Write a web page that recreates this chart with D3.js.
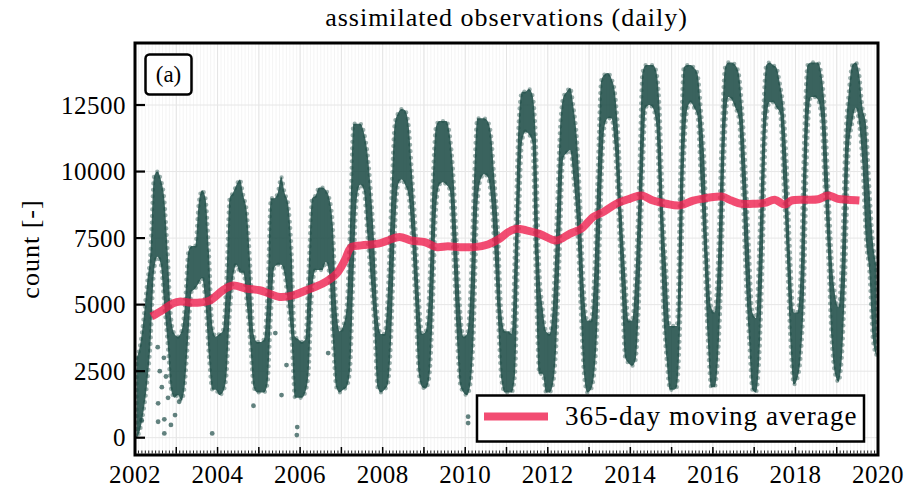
<!DOCTYPE html>
<html>
<head>
<meta charset="utf-8">
<script src="https://cdn.jsdelivr.net/npm/d3@7"></script>
<style>
  body { margin: 0; background: #fff; }
  svg text { font-family: "Liberation Serif", "Times New Roman", serif; fill: #000; }
</style>
</head>
<body>
<svg id="chart" width="908" height="493"></svg>
<script>
const firstYear = 2002;
const lastYear = 2020;
const yTickValues = [0, 2500, 5000, 7500, 10000, 12500];
const xTickLabels = [2002, 2004, 2006, 2008, 2010, 2012, 2014, 2016, 2018, 2020];

// spread of the daily counts in each month (low / high edge of the cloud), Jan..Dec
const monthLow = [
  [0, 300, 1000, 2000, 3500, 6200, 6800, 6500, 5000, 3500, 1800, 1500], // 2002
  [1600, 1400, 2000, 3800, 5500, 5600, 5800, 6000, 5000, 3000, 1800, 1800], // 2003
  [1600, 1700, 2200, 4500, 6000, 6500, 6200, 6200, 5000, 3500, 1900, 1700], // 2004
  [1700, 1700, 2000, 4500, 6400, 6500, 6500, 6100, 5000, 3700, 1500, 1500], // 2005
  [1500, 1700, 2500, 5500, 6300, 6300, 6300, 6600, 6100, 3700, 1900, 1700], // 2006
  [1800, 1900, 2500, 6000, 9000, 9500, 9300, 7700, 6000, 4300, 1900, 1700], // 2007
  [1800, 2000, 3800, 7500, 9500, 9700, 9500, 9100, 7500, 5000, 2400, 1900], // 2008
  [1850, 2200, 4500, 8500, 9500, 9600, 9500, 9300, 7000, 4000, 2000, 1700], // 2009
  [1600, 2000, 4000, 8600, 9700, 9900, 9800, 9000, 7000, 4500, 2200, 1700], // 2010
  [1700, 1700, 2400, 7400, 11100, 11500, 11400, 11100, 6000, 2400, 2400, 1700], // 2011
  [1700, 2000, 3500, 7000, 10500, 10700, 10800, 9700, 8000, 5000, 2400, 1700], // 2012
  [1800, 2400, 4500, 9000, 11700, 12000, 12000, 10900, 8400, 5500, 3000, 2800], // 2013
  [2700, 2900, 5000, 9300, 12400, 12500, 12400, 11800, 8700, 4900, 3000, 1800], // 2014
  [1800, 1900, 4300, 9900, 12300, 12600, 12400, 12100, 9500, 6800, 3700, 1900], // 2015
  [1900, 3000, 6200, 11200, 12800, 12700, 12400, 12000, 9600, 6100, 3700, 1800], // 2016
  [1700, 3000, 6800, 11800, 12600, 12600, 12400, 12200, 9600, 6800, 3700, 2000], // 2017
  [2200, 3000, 5500, 11200, 12800, 12800, 12700, 12000, 9300, 6800, 3700, 2400], // 2018
  [2100, 3000, 6200, 10800, 11800, 12400, 11800, 10200, 7400, 6200, 3700, 3100]  // 2019
];
const monthHigh = [
  [3000, 3500, 4500, 5800, 7000, 9800, 10000, 9700, 9000, 7000, 4500, 3900], // 2002
  [3800, 4000, 5000, 7000, 7200, 7200, 8800, 9300, 9000, 7000, 4200, 3800], // 2003
  [3900, 4000, 5800, 9000, 9200, 9500, 9700, 9100, 8500, 6500, 3900, 3600], // 2004
  [3600, 3700, 5500, 9000, 9000, 9200, 9800, 9200, 8800, 7100, 3800, 3700], // 2005
  [3600, 3700, 6500, 9000, 9100, 9400, 9400, 9300, 9000, 8000, 5000, 4000], // 2006
  [4200, 4900, 8000, 11800, 11800, 11800, 11500, 10800, 9400, 7400, 4600, 3900], // 2007
  [3900, 5500, 9000, 11800, 12200, 12350, 12300, 11800, 10000, 8000, 5400, 3900], // 2008
  [4000, 5500, 9500, 11700, 11900, 11900, 11900, 11400, 10000, 7500, 4900, 3800], // 2009
  [3900, 5500, 9500, 12000, 12000, 12000, 11900, 11400, 9700, 7900, 4700, 4000], // 2010
  [4000, 3900, 7500, 11800, 13000, 13000, 13100, 12900, 11400, 6500, 4900, 4000], // 2011
  [3900, 5000, 8000, 11500, 12800, 13000, 13150, 12400, 11200, 8700, 5600, 4400], // 2012
  [4400, 6200, 10000, 13400, 13650, 13700, 13500, 13000, 11400, 8400, 6200, 4400], // 2013
  [4400, 6200, 9500, 13700, 14000, 14000, 14000, 13800, 12400, 8700, 6200, 4200], // 2014
  [4200, 4200, 9900, 13900, 14000, 14000, 13900, 13700, 12400, 10500, 6900, 4900], // 2015
  [4700, 6800, 11200, 13900, 14100, 14100, 14000, 13700, 12400, 10100, 7100, 4700], // 2016
  [4500, 7400, 11800, 14000, 14100, 14000, 13900, 13300, 12400, 10200, 6800, 4700], // 2017
  [4700, 6200, 11200, 14000, 14100, 14100, 14100, 13700, 12400, 9700, 6800, 5400], // 2018
  [4900, 6800, 11200, 13000, 14000, 14100, 13700, 12400, 11800, 9400, 7400, 6500]  // 2019
];

// isolated daily values lying away from the main cloud
const strayTime = [2002.16, 2002.55, 2002.56, 2002.56, 2002.6, 2002.65, 2002.7, 2002.71, 2002.71,
  2002.75, 2002.8, 2002.87, 2002.97, 2003.07, 2003.87, 2004.87, 2005.4, 2005.55, 2005.67,
  2005.92, 2005.93, 2006.68, 2010.07, 2010.07];
const strayCount = [660, 3400, 1290, 600, 2500, 1900, 3000, 690, 160,
  2300, 1500, 480, 850, 1350, 160, 1200, 3930, 1600, 2730,
  100, 400, 3180, 790, 550];

// 365-day moving average
const avgTime = [2002.40, 2002.68, 2002.92, 2003.10, 2003.30, 2003.57, 2003.81, 2004.13, 2004.37,
  2004.70, 2005.02, 2005.26, 2005.50, 2005.83, 2006.15, 2006.55, 2006.88, 2007.08, 2007.24,
  2007.48, 2007.89, 2008.13, 2008.41, 2008.69, 2009.02, 2009.30, 2009.58, 2009.86, 2010.23,
  2010.55, 2010.83, 2011.04, 2011.24, 2011.48, 2011.80, 2012.21, 2012.53, 2012.81, 2013.10,
  2013.34, 2013.66, 2013.98, 2014.27, 2014.55, 2014.87, 2015.19, 2015.52, 2015.72, 2016.21,
  2016.45, 2016.69, 2017.02, 2017.26, 2017.50, 2017.74, 2017.90, 2018.22, 2018.55, 2018.79,
  2019.03, 2019.27, 2019.55];
const avgCount = [4550, 4800, 5050, 5120, 5080, 5080, 5150, 5540, 5720,
  5600, 5540, 5410, 5290, 5350, 5540, 5790, 6160, 6660, 7160,
  7225, 7290, 7410, 7540, 7410, 7350, 7160, 7190, 7160, 7160,
  7260, 7475, 7725, 7850, 7790, 7660, 7410, 7660, 7850, 8290,
  8475, 8790, 8975, 9100, 8910, 8790, 8725, 8910, 8975, 9060,
  8910, 8790, 8790, 8825, 8940, 8760, 8910, 8940, 8960, 9100,
  8975, 8940, 8910];

const svg = d3.select("#chart");
const plot = { left: 135, right: 878, top: 43, bottom: 455 };
const dotColor = "#1f4d48";
const avgColor = "#ef1f4f";

const x = d3.scaleLinear().domain([firstYear, lastYear]).range([plot.left, plot.right]);
const y = d3.scaleLinear().domain([-650, 14830]).range([plot.bottom, plot.top]);

// clip for the data marks
svg.append("defs").append("clipPath").attr("id", "plotclip")
  .append("rect")
  .attr("x", plot.left).attr("y", plot.top)
  .attr("width", plot.right - plot.left).attr("height", plot.bottom - plot.top);

// grid: months (faint), years, y ticks
const monthTicks = d3.range(firstYear * 12, lastYear * 12 + 1).map(k => k / 12);
const yearTicks = d3.range(firstYear, lastYear + 1);
const grid = svg.append("g");
grid.selectAll("line.minor").data(monthTicks).join("line")
  .attr("class", "minor")
  .attr("x1", d => x(d)).attr("x2", d => x(d))
  .attr("y1", plot.top).attr("y2", plot.bottom)
  .attr("stroke", "#f1f1f1").attr("stroke-width", 0.8);
grid.selectAll("line.year").data(yearTicks).join("line")
  .attr("class", "year")
  .attr("x1", d => x(d)).attr("x2", d => x(d))
  .attr("y1", plot.top).attr("y2", plot.bottom)
  .attr("stroke", "#e4e4e4").attr("stroke-width", 1);
grid.selectAll("line.h").data(yTickValues).join("line")
  .attr("class", "h")
  .attr("x1", plot.left).attr("x2", plot.right)
  .attr("y1", d => y(d)).attr("y2", d => y(d))
  .attr("stroke", "#e6e6e6").attr("stroke-width", 1);

// monthly spread of daily counts as one continuous band
const months = [];
monthLow.forEach((row, i) => {
  row.forEach((lo, m) => {
    months.push({ t: firstYear + i + (m + 0.5) / 12, lo: lo, hi: monthHigh[i][m] });
  });
});

const band = d3.area()
  .x(d => x(d.t))
  .y0(d => y(d.lo))
  .y1(d => y(d.hi))
  .curve(d3.curveMonotoneX);

const data = svg.append("g").attr("clip-path", "url(#plotclip)");
data.append("path")
  .datum(months)
  .attr("d", band)
  .attr("fill", dotColor)
  .attr("fill-opacity", 0.88);
// dotted rim, like the loose points at the edge of the cloud
data.append("path")
  .datum(months)
  .attr("d", band)
  .attr("fill", "none")
  .attr("stroke", dotColor)
  .attr("stroke-opacity", 0.45)
  .attr("stroke-width", 4.2)
  .attr("stroke-linecap", "round")
  .attr("stroke-dasharray", "0,6.5");

data.selectAll("circle").data(strayTime).join("circle")
  .attr("cx", d => x(d))
  .attr("cy", (d, i) => y(strayCount[i]))
  .attr("r", 2.4)
  .attr("fill", dotColor)
  .attr("fill-opacity", 0.7);

// moving average
const avgLine = d3.line()
  .x(d => x(d[0]))
  .y(d => y(d[1]))
  .curve(d3.curveCatmullRom);
data.append("path")
  .datum(avgTime.map((t, i) => [t, avgCount[i]]))
  .attr("d", avgLine)
  .attr("fill", "none")
  .attr("stroke", avgColor)
  .attr("stroke-width", 8)
  .attr("stroke-opacity", 0.8)
  .attr("stroke-linejoin", "round");

// axes: inward ticks
const axes = svg.append("g");
axes.selectAll("line.ytick").data(yTickValues).join("line")
  .attr("class", "ytick")
  .attr("x1", plot.left).attr("x2", plot.left + 10)
  .attr("y1", d => y(d)).attr("y2", d => y(d))
  .attr("stroke", "#000").attr("stroke-width", 2.2);
axes.selectAll("text.ylab").data(yTickValues).join("text")
  .attr("class", "ylab")
  .attr("x", plot.left - 9)
  .attr("y", d => y(d))
  .attr("dy", "0.35em")
  .attr("text-anchor", "end")
  .style("font-size", "25px")
  .style("letter-spacing", "0.5px")
  .text(d => d);

axes.selectAll("line.xminor").data(monthTicks).join("line")
  .attr("class", "xminor")
  .attr("x1", d => x(d)).attr("x2", d => x(d))
  .attr("y1", plot.bottom - 1.5).attr("y2", plot.bottom - 4.5)
  .attr("stroke", "#000").attr("stroke-width", 0.9);
axes.selectAll("line.xmajor").data(yearTicks).join("line")
  .attr("class", "xmajor")
  .attr("x1", d => x(d)).attr("x2", d => x(d))
  .attr("y1", plot.bottom - 1.5).attr("y2", plot.bottom - 8)
  .attr("stroke", "#000").attr("stroke-width", 1.5);
axes.selectAll("text.xlab").data(xTickLabels).join("text")
  .attr("class", "xlab")
  .attr("x", d => x(d))
  .attr("y", 483)
  .attr("text-anchor", "middle")
  .style("font-size", "25px")
  .style("letter-spacing", "0.5px")
  .text(d => d);

// frame
svg.append("rect")
  .attr("x", plot.left).attr("y", plot.top)
  .attr("width", plot.right - plot.left).attr("height", plot.bottom - plot.top)
  .attr("fill", "none").attr("stroke", "#000").attr("stroke-width", 3);

// title and y label
svg.append("text")
  .attr("x", (plot.left + plot.right) / 2).attr("y", 26)
  .attr("text-anchor", "middle")
  .style("font-size", "26px")
  .style("letter-spacing", "1px")
  .text("assimilated observations (daily)");
svg.append("text")
  .attr("transform", "translate(39," + (plot.top + plot.bottom) / 2 + ") rotate(-90)")
  .attr("text-anchor", "middle")
  .style("font-size", "26px")
  .style("letter-spacing", "1px")
  .text("count [-]");

// panel tag
svg.append("rect")
  .attr("x", 145.5).attr("y", 54.5).attr("width", 46).attr("height", 40)
  .attr("rx", 4).attr("ry", 4)
  .attr("fill", "#fff").attr("stroke", "#000").attr("stroke-width", 2.5);
svg.append("text")
  .attr("x", 168.5).attr("y", 82)
  .attr("text-anchor", "middle")
  .style("font-size", "23px")
  .text("(a)");

// legend
const legend = svg.append("g");
legend.append("rect")
  .attr("x", 477).attr("y", 395.5).attr("width", 387).attr("height", 46)
  .attr("fill", "#fff").attr("stroke", "#000").attr("stroke-width", 2.5);
legend.append("line")
  .attr("x1", 484).attr("x2", 548).attr("y1", 416.5).attr("y2", 416.5)
  .attr("stroke", avgColor).attr("stroke-width", 8).attr("stroke-opacity", 0.8);
legend.append("text")
  .attr("x", 565).attr("y", 425)
  .style("font-size", "27px")
  .style("letter-spacing", "1.1px")
  .text("365-day moving average");
</script>
</body>
</html>
